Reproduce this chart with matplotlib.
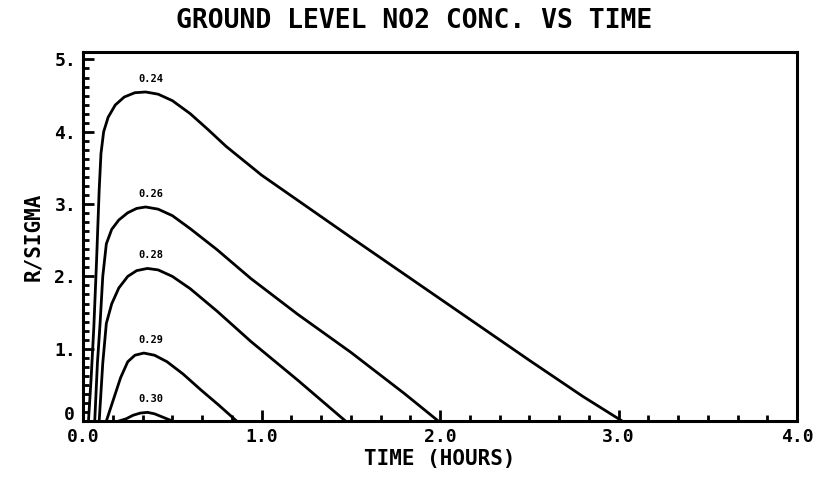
import numpy as np
import matplotlib
matplotlib.use("Agg")
import matplotlib.pyplot as plt
from matplotlib.ticker import MultipleLocator
from matplotlib.transforms import ScaledTranslation

# curve data: time (hours) vs R/SIGMA
levels = ["0.24", "0.26", "0.28", "0.29", "0.30"]

t_a = [0.03, 0.045, 0.06, 0.075, 0.09, 0.10, 0.115, 0.14, 0.18, 0.23, 0.29, 0.35, 0.42,
       0.50, 0.60, 0.70, 0.80, 1.0, 1.5, 2.0, 2.5, 2.8, 3.02]
y_a = [0.0, 0.6, 1.3, 2.2, 3.2, 3.7, 4.0, 4.2, 4.37, 4.48, 4.54, 4.55, 4.52,
       4.43, 4.25, 4.03, 3.8, 3.4, 2.54, 1.69, 0.84, 0.34, 0.0]

t_b = [0.065, 0.08, 0.095, 0.11, 0.13, 0.16, 0.20, 0.25, 0.30, 0.35, 0.42, 0.50, 0.60,
       0.75, 0.94, 1.2, 1.5, 1.8, 1.99]
y_b = [0.0, 0.8, 1.35, 2.0, 2.45, 2.65, 2.78, 2.88, 2.94, 2.96, 2.93, 2.84, 2.66,
       2.37, 1.97, 1.48, 0.95, 0.38, 0.0]

t_c = [0.09, 0.11, 0.13, 0.16, 0.20, 0.25, 0.30, 0.36, 0.42, 0.50, 0.60, 0.75, 0.94, 1.2, 1.47]
y_c = [0.0, 0.8, 1.35, 1.62, 1.84, 2.0, 2.08, 2.11, 2.09, 2.0, 1.83, 1.52, 1.1, 0.57, 0.0]

t_d = [0.13, 0.17, 0.21, 0.25, 0.29, 0.34, 0.40, 0.47, 0.56, 0.66, 0.76, 0.86]
y_d = [0.0, 0.3, 0.6, 0.82, 0.91, 0.94, 0.91, 0.82, 0.65, 0.43, 0.22, 0.0]

t_e = [0.20, 0.24, 0.28, 0.32, 0.36, 0.40, 0.45, 0.50]
y_e = [0.0, 0.03, 0.08, 0.11, 0.12, 0.10, 0.05, 0.0]

xticks = [0, 1, 2, 3, 4]
xtick_labels = ["0.0", "1.0", "2.0", "3.0", "4.0"]
yticks = [0, 1, 2, 3, 4, 5]
ytick_labels = ["0", "1.", "2.", "3.", "4.", "5."]

curves = [(t_a, y_a), (t_b, y_b), (t_c, y_c), (t_d, y_d), (t_e, y_e)]

mono = "DejaVu Sans Mono"

fig = plt.figure(figsize=(8.15, 4.79), dpi=100)
ax = fig.add_axes([0.102, 0.121, 0.876, 0.770])

for (t, y), lab in zip(curves, levels):
    ax.plot(t, y, color="black", lw=2.0, solid_joinstyle="round")
    i = int(np.argmax(y))
    ax.annotate(lab, (0.31, y[i]), xytext=(0, 6), textcoords="offset points",
                ha="left", va="bottom", fontsize=7.5, fontweight="bold", family=mono)

ax.set_xlim(0, 4)
ax.set_ylim(0, 5.1)
ax.set_xticks(xticks)
ax.set_xticklabels(xtick_labels)
ax.set_yticks(yticks)
ax.set_yticklabels(ytick_labels)
ax.xaxis.set_minor_locator(MultipleLocator(1 / 6))
ax.yaxis.set_minor_locator(MultipleLocator(0.125))

ax.tick_params(which="both", direction="in", top=False, right=False, width=2)
ax.tick_params(which="major", length=8, pad=5)
ax.tick_params(which="minor", length=4)
for lbl in ax.get_xticklabels() + ax.get_yticklabels():
    lbl.set_family(mono)
    lbl.set_fontweight("bold")
    lbl.set_fontsize(13)
# the "0" on the y axis sits a little higher, clear of "0.0"
zero = ax.get_yticklabels()[0]
zero.set_transform(zero.get_transform() + ScaledTranslation(-1 / 72, 6 / 72, fig.dpi_scale_trans))
for s in ax.spines.values():
    s.set_linewidth(2.2)

fig.text(0.508, 0.957, "GROUND LEVEL NO2 CONC. VS TIME", ha="center", va="center",
         fontsize=19, fontweight="bold", family=mono)
ax.set_xlabel("TIME (HOURS)", fontsize=15, fontweight="bold", family=mono, labelpad=2)
ax.set_ylabel("R/SIGMA", fontsize=15, fontweight="bold", family=mono, labelpad=8)

fig.savefig("out.png", dpi=100)
